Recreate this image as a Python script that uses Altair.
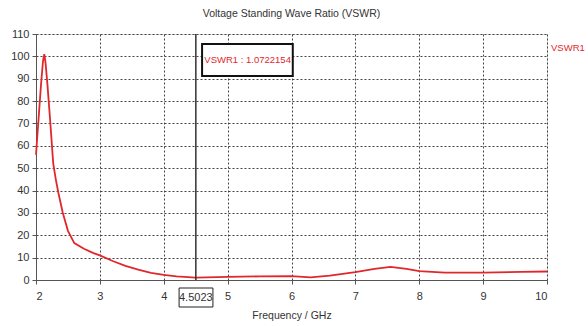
import altair as alt
import pandas as pd

# ---- data ----
freq_ghz = [2.0, 2.04, 2.08, 2.11, 2.13, 2.15, 2.18, 2.22, 2.27, 2.31, 2.35, 2.42,
            2.5, 2.6, 2.75, 2.9, 3.0, 3.2, 3.4, 3.6, 3.8, 4.0, 4.2, 4.5, 5.0,
            5.5, 6.0, 6.3, 6.6, 7.0, 7.3, 7.55, 7.8, 8.0, 8.4, 9.0, 9.6, 10.0]
vswr = [56, 72, 88, 98, 101, 97, 87, 72, 52, 45, 39, 30,
        22, 16.5, 14, 12, 11, 8.5, 6.3, 4.6, 3.2, 2.3, 1.6, 1.07, 1.4,
        1.6, 1.7, 1.2, 2.0, 3.5, 5.0, 5.9, 5.0, 4.0, 3.3, 3.3, 3.6, 3.8]
x_ticks = [2, 3, 4, 5, 6, 7, 8, 9, 10]
y_ticks = [0, 10, 20, 30, 40, 50, 60, 70, 80, 90, 100, 110]
marker_freq = 4.5023
marker_label = "4.5023"
marker_text = "VSWR1 : 1.0722154"
series_name = "VSWR1"
title_text = "Voltage Standing Wave Ratio (VSWR)"
x_title = "Frequency / GHz"

FONT = "Liberation Sans, Arial, sans-serif"
RED = "#e0282c"

df = pd.DataFrame({"f": freq_ghz, "v": vswr})
xs = alt.Scale(domain=[2, 10], nice=False, zero=False)
ys = alt.Scale(domain=[0, 110], nice=False)

X_AX = alt.Axis(values=x_ticks, title=x_title, format="d", labelOverlap=False,
                grid=True, gridDash=[2, 2], gridColor="#444", gridOpacity=1,
                domainColor="#555", tickColor="#555", tickSize=4,
                labelFont=FONT, labelFontSize=11, labelColor="#333",
                labelPadding=6, titleFont=FONT, titleFontSize=10.5,
                titleFontWeight="normal", titleColor="#333", titlePadding=9)
Y_AX = alt.Axis(values=y_ticks, title=None, format="d", labelOverlap=False,
                grid=True, gridDash=[2, 2], gridColor="#444", gridOpacity=1,
                domainColor="#555", tickColor="#555", tickSize=4,
                labelFont=FONT, labelFontSize=11, labelColor="#333",
                labelPadding=3)

line = alt.Chart(df).mark_line(color=RED, strokeWidth=1.8).encode(
    x=alt.X("f:Q", scale=xs, axis=X_AX),
    y=alt.Y("v:Q", scale=ys, axis=Y_AX),
)

mk = pd.DataFrame({"f": [marker_freq]})
rule = alt.Chart(mk).mark_rule(color="#333", strokeWidth=1.5).encode(
    x=alt.X("f:Q", scale=xs, axis=X_AX))

box_df = pd.DataFrame({"f1": [4.6], "f2": [6.02], "v1": [91.2], "v2": [105.5],
                       "t": [marker_text], "fx": [4.635], "vy": [98.4]})
box = alt.Chart(box_df).mark_rect(fill="white", stroke="#111", strokeWidth=2).encode(
    x=alt.X("f1:Q", scale=xs, axis=X_AX), x2="f2:Q",
    y=alt.Y("v1:Q", scale=ys, axis=Y_AX), y2="v2:Q")
box_text = alt.Chart(box_df).mark_text(color=RED, font=FONT, fontSize=9.5,
                                       align="left", baseline="middle").encode(
    x=alt.X("fx:Q", scale=xs, axis=X_AX), y=alt.Y("vy:Q", scale=ys, axis=Y_AX),
    text="t:N")

lab_df = pd.DataFrame({"f1": [4.24], "f2": [4.77], "f": [marker_freq], "lab": [marker_label]})
lab_box = alt.Chart(lab_df).mark_rect(fill="white", stroke="#222", strokeWidth=1).encode(
    x=alt.X("f1:Q", scale=xs, axis=X_AX), x2="f2:Q",
    y=alt.value(254), y2=alt.value(273))
lab_text = alt.Chart(lab_df).mark_text(color="#333", font=FONT, fontSize=11,
                                       baseline="middle").encode(
    x=alt.X("f:Q", scale=xs, axis=X_AX), y=alt.value(263.5), text="lab:N")

leg_df = pd.DataFrame({"t": [series_name]})
legend = alt.Chart(leg_df).mark_text(color=RED, font=FONT, fontSize=9.5,
                                     align="left", baseline="middle").encode(
    x=alt.value(515), y=alt.value(14), text="t:N")

chart = alt.layer(line, rule, box, box_text, lab_box, lab_text, legend).properties(
    width=511, height=246,
    autosize=alt.AutoSizeParams(type="none"),
    padding={"left": 36, "top": 34, "right": 41, "bottom": 46},
    title=alt.TitleParams(title_text, font=FONT, fontSize=10.5, fontWeight="normal",
                          color="#333", anchor="middle", offset=9),
).configure_view(stroke="#555", strokeWidth=1).configure(background="white")

chart.save("out.html", embed_options={"renderer": "svg", "actions": False})
